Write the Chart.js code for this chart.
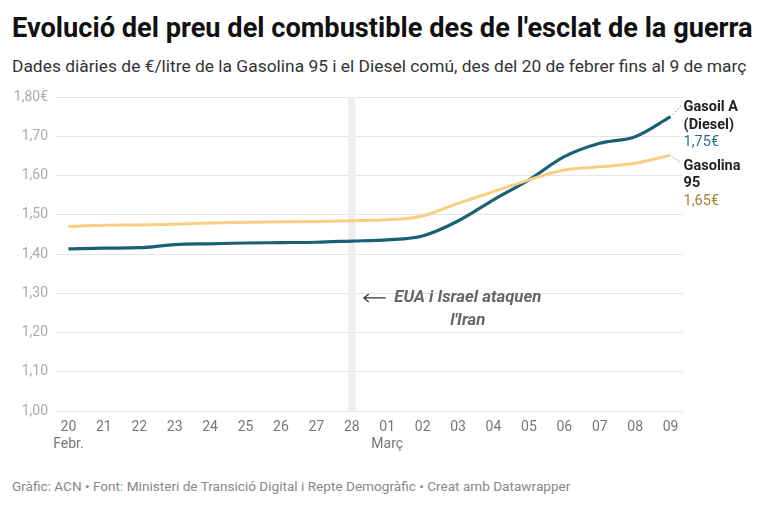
<!DOCTYPE html>
<html>
<head>
<meta charset="utf-8">
<script src="https://cdn.jsdelivr.net/npm/chart.js@4"></script>
<style>
  html, body { margin: 0; padding: 0; background: #fff; }
  body { width: 768px; height: 509px; position: relative; overflow: hidden; font-family: Roboto, "Noto Sans", sans-serif; }
  #title { position: absolute; left: 12px; top: 12px; font-size: 27.2px; font-weight: 700; color: #111; white-space: nowrap; }
  #subtitle { position: absolute; left: 12px; top: 56px; font-size: 17.4px; color: #333; white-space: nowrap; }
  #footer { position: absolute; left: 12px; top: 478px; font-size: 13.6px; color: #888; white-space: nowrap; }
  #wrap { position: absolute; left: 0; top: 80px; width: 768px; height: 385px; }
</style>
</head>
<body>
<div id="title">Evolució del preu del combustible des de l'esclat de la guerra</div>
<div id="subtitle">Dades diàries de €/litre de la Gasolina 95 i el Diesel comú, des del 20 de febrer fins al 9 de març</div>
<div id="wrap"><canvas id="chart"></canvas></div>
<div id="footer">Gràfic: ACN • Font: Ministeri de Transició Digital i Repte Demogràfic • Creat amb Datawrapper</div>

<script>
// --- data ---
const days = ['20', '21', '22', '23', '24', '25', '26', '27', '28', '01', '02', '03', '04', '05', '06', '07', '08', '09'];
const months = ['Febr.', '', '', '', '', '', '', '', '', 'Març', '', '', '', '', '', '', '', ''];
const diesel = [1.413, 1.415, 1.416, 1.424, 1.426, 1.428, 1.429, 1.430, 1.433, 1.436, 1.446, 1.484, 1.538, 1.589, 1.648, 1.682, 1.699, 1.750];
const gasolina = [1.470, 1.473, 1.474, 1.476, 1.479, 1.481, 1.482, 1.483, 1.485, 1.487, 1.497, 1.529, 1.559, 1.589, 1.614, 1.622, 1.631, 1.652];
const yTicks = [1.0, 1.1, 1.2, 1.3, 1.4, 1.5, 1.6, 1.7, 1.8];
const warDay = 8; // index of "28"

const dieselColor = '#1b5f75';
const gasColor = '#f8cf82';

const toPoints = arr => arr.map((v, i) => ({ x: i, y: v }));
const fmt = v => v.toFixed(2).replace('.', ',');

// band, annotation and line labels
const extras = {
    id: 'extras',
    beforeDatasetsDraw(chart) {
        const { ctx, chartArea, scales } = chart;
        const x = scales.x.getPixelForValue(warDay);
        ctx.save();
        ctx.fillStyle = '#eeeeee';
        ctx.fillRect(x - 3.5, chartArea.top, 7, chartArea.bottom - chartArea.top);
        ctx.restore();
    },
    afterDatasetsDraw(chart) {
        const { ctx, scales } = chart;
        const xs = scales.x, ys = scales.y;

        // annotation
        const ax = xs.getPixelForValue(warDay);
        const ay = ys.getPixelForValue(1.288);
        ctx.save();
        ctx.strokeStyle = '#333';
        ctx.lineWidth = 1.2;
        ctx.beginPath();
        ctx.moveTo(ax + 12, ay);
        ctx.lineTo(ax + 34, ay);
        ctx.moveTo(ax + 17, ay - 4);
        ctx.lineTo(ax + 12, ay);
        ctx.lineTo(ax + 17, ay + 4);
        ctx.stroke();
        ctx.fillStyle = '#666';
        ctx.font = 'italic 700 16.8px Roboto';
        ctx.textAlign = 'center';
        ctx.textBaseline = 'middle';
        ctx.fillText('EUA i Israel ataquen', ax + 116, ay);
        ctx.fillText("l'Iran", ax + 116, ay + 23);

        // end labels
        const last = days.length - 1;
        const ex = xs.getPixelForValue(last);
        const lx = ex + 13;
        const dy = ys.getPixelForValue(diesel[last]);
        const gy = ys.getPixelForValue(gasolina[last]);

        ctx.setLineDash([1.5, 2]);
        ctx.lineWidth = 1;
        ctx.strokeStyle = '#888';
        ctx.beginPath();
        ctx.moveTo(ex + 2, dy - 2);
        ctx.lineTo(lx - 2, dy - 11);
        ctx.moveTo(ex + 2, gy + 2);
        ctx.lineTo(lx - 2, gy + 8);
        ctx.stroke();
        ctx.setLineDash([]);

        ctx.textAlign = 'left';
        ctx.font = '700 14.5px Roboto';
        ctx.fillStyle = '#222';
        ctx.fillText('Gasoil A', lx, dy - 9);
        ctx.fillText('(Diesel)', lx, dy + 9);
        ctx.fillText('Gasolina', lx, gy + 11);
        ctx.fillText('95', lx, gy + 28);
        ctx.font = '14.5px Roboto';
        ctx.fillStyle = '#2f7189';
        ctx.fillText(fmt(diesel[last]) + '€', lx, dy + 26);
        ctx.fillStyle = '#a5832e';
        ctx.fillText(fmt(gasolina[last]) + '€', lx, gy + 46);
        ctx.restore();
    }
};

new Chart(document.getElementById('chart'), {
    type: 'line',
    data: {
        datasets: [
            { label: 'Gasolina 95', data: toPoints(gasolina), borderColor: gasColor, borderWidth: 3, pointRadius: 0, cubicInterpolationMode: 'monotone' },
            { label: 'Gasoil A (Diesel)', data: toPoints(diesel), borderColor: dieselColor, borderWidth: 3.2, pointRadius: 0, cubicInterpolationMode: 'monotone' }
        ]
    },
    options: {
        responsive: true,
        maintainAspectRatio: false,
        animation: false,
        events: [],
        layout: { padding: { top: 17, right: 85, left: 0, bottom: 0 } },
        plugins: { legend: { display: false }, tooltip: { enabled: false } },
        scales: {
            x: {
                type: 'linear',
                min: -0.35,
                max: days.length - 1 + 0.35,
                afterBuildTicks: s => { s.ticks = days.map((d, i) => ({ value: i })); },
                afterFit: s => { s.height = 54; },
                grid: { display: false, drawTicks: false },
                border: { display: false },
                ticks: {
                    padding: 8,
                    autoSkip: false,
                    maxRotation: 0,
                    color: '#777',
                    font: { family: 'Roboto', size: 14 },
                    callback: v => months[v] ? [days[v], months[v]] : days[v]
                }
            },
            y: {
                min: 1.0,
                max: 1.8,
                afterBuildTicks: s => { s.ticks = yTicks.map(v => ({ value: v })); },
                afterFit: s => { s.width = 56; },
                grid: { color: '#e5e5e5', lineWidth: 1, drawTicks: false },
                border: { display: false },
                ticks: {
                    padding: 8,
                    color: '#aaa',
                    font: { family: 'Roboto', size: 14 },
                    callback: v => Math.abs(v - 1.8) < 1e-6 ? '1,80€' : fmt(v)
                }
            }
        }
    },
    plugins: [extras]
});
</script>
</body>
</html>
